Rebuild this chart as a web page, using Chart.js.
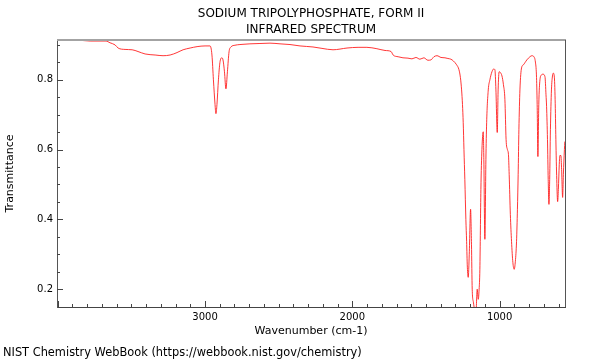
<!DOCTYPE html>
<html>
<head>
<meta charset="utf-8">
<script src="https://cdn.jsdelivr.net/npm/chart.js@4/dist/chart.umd.min.js"></script>
<style>
  html, body { margin: 0; padding: 0; background: #fff; }
  #wrap { width: 600px; height: 360px; position: relative; }
</style>
</head>
<body>
<div id="wrap"><canvas id="c" width="600" height="360"></canvas></div>
<script>
const chartTitle = ['SODIUM TRIPOLYPHOSPHATE, FORM II', 'INFRARED SPECTRUM'];
const footerText = 'NIST Chemistry WebBook (https://webbook.nist.gov/chemistry)';
const xAxisLabel = 'Wavenumber (cm-1)';
const yAxisLabel = 'Transmittance';

const xMajorTicks = [1000, 2000, 3000];
const yMajorTicks = [0.2, 0.4, 0.6, 0.8];

const wavenumbers = [
  4004, 3882, 3780, 3672, 3645, 3611, 3590, 3543, 3495, 3455,
  3407, 3339, 3285, 3237, 3190, 3149, 3101, 3054, 3000, 2966,
  2953, 2943, 2932, 2926, 2919, 2909, 2899, 2887, 2878, 2868,
  2858, 2848, 2837, 2824, 2797, 2763, 2695, 2627, 2559, 2491,
  2423, 2355, 2267, 2206, 2131, 2036, 1961, 1901, 1833, 1778,
  1737, 1723, 1689, 1656, 1622, 1595, 1568, 1541, 1514, 1487,
  1466, 1446, 1425, 1398, 1371, 1351, 1331, 1314, 1292, 1276,
  1266, 1258, 1252, 1247, 1242, 1236, 1229, 1224, 1219, 1213,
  1206, 1197, 1191, 1186, 1178, 1168, 1161, 1152, 1145, 1139,
  1134, 1127, 1120, 1111, 1107, 1100, 1093, 1088, 1077, 1066,
  1052, 1040, 1032, 1025, 1016, 1010, 1003, 995, 984, 974,
  964, 956, 947, 940, 935, 927, 919, 910, 901, 893,
  885, 879, 874, 869, 862, 851, 838, 828, 815, 794,
  781, 767, 757, 750, 745, 740, 734, 726, 716, 706,
  692, 685, 681, 675, 670, 665, 660, 655, 648, 641,
  636, 629, 623, 618, 612, 606, 601, 595, 591, 584,
  579, 572, 567, 560, 557
];

const transmittance = [
  0.914, 0.914, 0.911, 0.911, 0.906, 0.900, 0.891, 0.887, 0.886, 0.881,
  0.874, 0.871, 0.869, 0.871, 0.878, 0.886, 0.891, 0.895, 0.897, 0.897,
  0.871, 0.800, 0.729, 0.703, 0.729, 0.800, 0.849, 0.863, 0.857, 0.823,
  0.774, 0.823, 0.880, 0.894, 0.899, 0.901, 0.903, 0.904, 0.905, 0.903,
  0.901, 0.897, 0.894, 0.890, 0.886, 0.891, 0.893, 0.893, 0.889, 0.884,
  0.881, 0.871, 0.866, 0.863, 0.862, 0.860, 0.864, 0.859, 0.863, 0.856,
  0.857, 0.866, 0.869, 0.864, 0.863, 0.861, 0.859, 0.854, 0.843, 0.829,
  0.806, 0.771, 0.729, 0.677, 0.600, 0.514, 0.400, 0.337, 0.263, 0.234,
  0.300, 0.429, 0.329, 0.200, 0.163, 0.137, 0.131, 0.200, 0.171, 0.200,
  0.257, 0.486, 0.600, 0.651, 0.571, 0.343, 0.571, 0.677, 0.771, 0.800,
  0.823, 0.831, 0.829, 0.771, 0.649, 0.771, 0.823, 0.821, 0.811, 0.786,
  0.743, 0.629, 0.600, 0.586, 0.529, 0.414, 0.337, 0.277, 0.257, 0.280,
  0.337, 0.429, 0.529, 0.657, 0.771, 0.834, 0.843, 0.849, 0.857, 0.866,
  0.869, 0.866, 0.851, 0.814, 0.729, 0.580, 0.729, 0.800, 0.814, 0.816,
  0.809, 0.757, 0.723, 0.629, 0.514, 0.443, 0.514, 0.657, 0.771, 0.811,
  0.819, 0.811, 0.743, 0.629, 0.514, 0.451, 0.486, 0.557, 0.583, 0.583,
  0.543, 0.463, 0.529, 0.600, 0.623
];

const FONT = "'DejaVu Sans', 'Liberation Sans', sans-serif";

const points = wavenumbers.map((w, i) => ({ x: w, y: transmittance[i] }));

const framePlugin = {
  id: 'frame',
  afterDraw(chart) {
    const { ctx, chartArea: a, scales: { x, y } } = chart;
    ctx.save();
    // top border
    ctx.strokeStyle = '#a3a3a3';
    ctx.lineWidth = 2;
    ctx.beginPath(); ctx.moveTo(a.left, a.top); ctx.lineTo(a.right + 1, a.top); ctx.stroke();
    // right border
    ctx.strokeStyle = '#555';
    ctx.lineWidth = 1;
    ctx.beginPath(); ctx.moveTo(a.right + 0.5, a.top); ctx.lineTo(a.right + 0.5, a.bottom); ctx.stroke();
    // inward ticks, x
    ctx.strokeStyle = '#444';
    ctx.lineWidth = 1;
    for (let w = 600; w <= 4000; w += 100) {
      const px = Math.round(x.getPixelForValue(w)) + 0.5;
      if (px < a.left || px > a.right) continue;
      const len = (w % 1000 === 0) ? 6 : 3;
      ctx.beginPath(); ctx.moveTo(px, a.bottom); ctx.lineTo(px, a.bottom - len); ctx.stroke();
    }
    // inward ticks, y
    for (let k = 3; k <= 18; k++) {
      const v = k * 0.05;
      const py = Math.round(y.getPixelForValue(v)) + 0.5;
      if (py < a.top || py > a.bottom) continue;
      const len = (k % 4 === 0) ? 6 : 3;
      ctx.beginPath(); ctx.moveTo(a.left, py); ctx.lineTo(a.left + len, py); ctx.stroke();
    }
    // title
    ctx.fillStyle = '#000';
    ctx.font = '12px ' + FONT;
    ctx.textAlign = 'center';
    ctx.textBaseline = 'middle';
    const cx = (a.left + a.right) / 2;
    ctx.fillText(chartTitle[0], cx, 14);
    ctx.fillText(chartTitle[1], cx, 30);
    // footer
    ctx.textAlign = 'left';
    ctx.font = '11.4px ' + FONT;
    ctx.fillText(footerText, 3, 353);
    ctx.restore();
  }
};

new Chart(document.getElementById('c'), {
  type: 'line',
  data: {
    datasets: [{
      data: points,
      borderColor: 'rgba(255, 20, 20, 0.85)',
      borderWidth: 1,
      pointRadius: 0,
      fill: false,
      cubicInterpolationMode: 'monotone'
    }]
  },
  options: {
    responsive: false,
    animation: false,
    devicePixelRatio: 1,
    layout: { padding: { left: 0, top: 40, right: 35, bottom: 22 } },
    plugins: {
      legend: { display: false },
      tooltip: { enabled: false },
      title: { display: false }
    },
    scales: {
      x: {
        type: 'linear',
        reverse: true,
        min: 556,
        max: 4005,
        afterFit(scale) { scale.height = 31; },
        afterBuildTicks(scale) { scale.ticks = xMajorTicks.map(v => ({ value: v })); },
        grid: { display: false, drawTicks: false, tickLength: 0 },
        border: { display: true, color: '#444', width: 1 },
        ticks: {
          color: '#000',
          font: { family: FONT, size: 10 },
          padding: 4,
          maxRotation: 0,
          autoSkip: false,
          callback: v => String(v)
        },
        title: {
          display: true,
          text: xAxisLabel,
          color: '#000',
          font: { family: FONT, size: 11 },
          padding: { top: 0, bottom: 0 }
        }
      },
      y: {
        type: 'linear',
        min: 0.149,
        max: 0.914,
        afterFit(scale) { scale.width = 57; },
        afterBuildTicks(scale) { scale.ticks = yMajorTicks.map(v => ({ value: v })); },
        grid: { display: false, drawTicks: false, tickLength: 0 },
        border: { display: true, color: '#555', width: 1 },
        ticks: {
          color: '#000',
          font: { family: FONT, size: 10 },
          padding: 4,
          autoSkip: false,
          callback: v => Number(v).toFixed(1)
        },
        title: {
          display: true,
          text: yAxisLabel,
          color: '#000',
          font: { family: FONT, size: 11 },
          padding: { top: 4, bottom: 0 }
        }
      }
    }
  },
  plugins: [framePlugin]
});
</script>
</body>
</html>
